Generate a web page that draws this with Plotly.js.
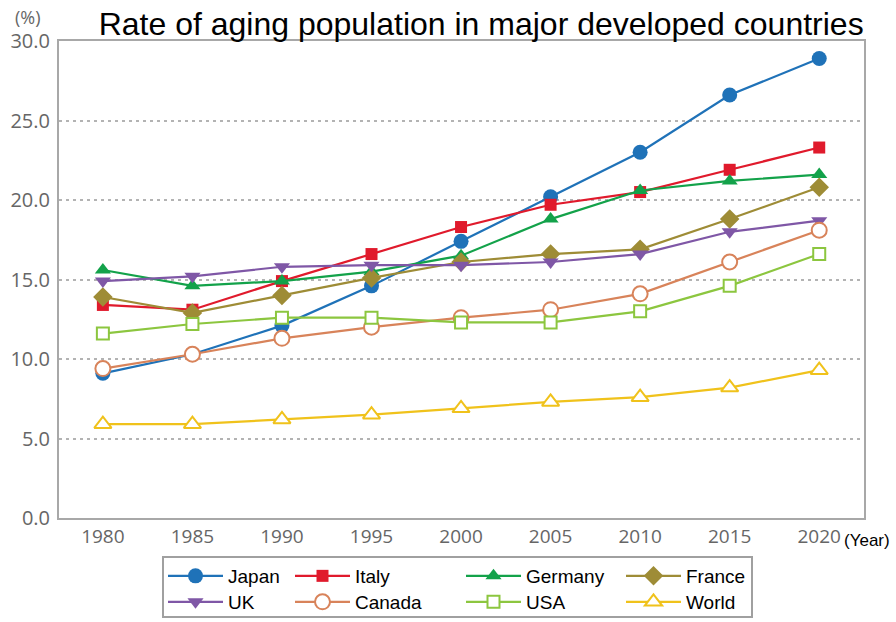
<!DOCTYPE html>
<html>
<head>
<meta charset="utf-8">
<script src="https://cdn.plot.ly/plotly-3.0.1.min.js"></script>
<style>html,body{margin:0;padding:0;background:#fff;}#chart{width:896px;height:622px;}</style>
</head>
<body>
<div id="chart"></div>
<script>
var years = [1980, 1985, 1990, 1995, 2000, 2005, 2010, 2015, 2020];
var japan   = [9.1, 10.3, 12.1, 14.6, 17.4, 20.2, 23.0, 26.6, 28.9];
var italy   = [13.4, 13.1, 14.9, 16.6, 18.3, 19.7, 20.5, 21.9, 23.3];
var germany = [15.6, 14.6, 14.9, 15.5, 16.5, 18.8, 20.6, 21.2, 21.6];
var france  = [13.9, 12.9, 14.0, 15.1, 16.1, 16.6, 16.9, 18.8, 20.8];
var uk      = [14.9, 15.2, 15.8, 15.9, 15.9, 16.1, 16.6, 18.0, 18.7];
var canada  = [9.4, 10.3, 11.3, 12.0, 12.6, 13.1, 14.1, 16.1, 18.1];
var usa     = [11.6, 12.2, 12.6, 12.6, 12.3, 12.3, 13.0, 14.6, 16.6];
var world   = [5.9, 5.9, 6.2, 6.5, 6.9, 7.3, 7.6, 8.2, 9.3];
var yTicks  = [0, 5, 10, 15, 20, 25, 30];

function series(name, y, color, symbol, size, open, legend, lw) {
  return {
    type: 'scatter', mode: 'lines+markers', name: name, x: years, y: y,
    line: {color: color, width: 2.2},
    marker: open ? {symbol: symbol, size: size, color: '#ffffff', line: {color: color, width: 2}}
                 : {symbol: symbol, size: size, color: color, line: {width: 0}},
    legend: legend, legendwidth: lw
  };
}

var data = [
  series('Japan', japan, '#1f72b8', 'circle', 15, false, 'legend', 57),
  series('Italy', italy, '#e01a2c', 'square', 12, false, 'legend', 101),
  series('Germany', germany, '#13a24a', 'triangle-up', 14, false, 'legend', 90),
  series('France', france, '#9e8c36', 'diamond', 15, false, 'legend', 60),
  series('UK', uk, '#7f57a6', 'triangle-down', 14, false, 'legend2', 57),
  series('Canada', canada, '#d8835a', 'circle', 15, true, 'legend2', 101),
  series('USA', usa, '#8cc63f', 'square', 12, true, 'legend2', 90),
  series('World', world, '#f0c21b', 'triangle-up', 15, true, 'legend2', 60)
];

var legendCommon = {
  orientation: 'h', xref: 'container', yref: 'container', xanchor: 'left', yanchor: 'top',
  borderwidth: 0, bgcolor: 'rgba(0,0,0,0)', itemwidth: 55, itemclick: false, itemdoubleclick: false,
  font: {family: 'Liberation Sans, Arial, sans-serif', size: 19, color: '#000'}
};

var layout = {
  width: 896, height: 622,
  margin: {l: 59, r: 32, t: 41, b: 104, autoexpand: false},
  paper_bgcolor: '#fff', plot_bgcolor: '#fff',
  showlegend: true,
  title: {
    text: 'Rate of aging population in major developed countries',
    font: {family: 'Liberation Sans, Arial, sans-serif', size: 32, color: '#000'},
    x: 0.537, xanchor: 'center', xref: 'container', y: 0.962, yanchor: 'middle', yref: 'container'
  },
  xaxis: {
    range: [1977.55, 2022.5], tickvals: years, ticktext: years.map(String),
    showgrid: false, zeroline: false, showline: true, mirror: true,
    linecolor: '#a8a8a8', linewidth: 2, ticks: '',
    tickfont: {family: 'Open Sans, sans-serif', size: 19, color: '#666'}
  },
  yaxis: {
    range: [0, 30], tickvals: yTicks, tickformat: '.1f',
    showgrid: true, gridcolor: '#b3b3b3', gridwidth: 2, griddash: '3px,4px',
    zeroline: false, showline: true, mirror: true,
    linecolor: '#a8a8a8', linewidth: 2, ticks: '', ticklabelstandoff: 3,
    tickfont: {family: 'Open Sans, sans-serif', size: 20, color: '#666'}
  },
  legend: Object.assign({}, legendCommon, {x: 163 / 896, y: 1 - 557 / 622}),
  legend2: Object.assign({}, legendCommon, {x: 163 / 896, y: 1 - 583 / 622}),
  shapes: [
    {type: 'rect', xref: 'paper', yref: 'paper',
     x0: (163 - 59) / 805, x1: (752 - 59) / 805,
     y0: (518 - 617) / 477, y1: (518 - 557) / 477,
     line: {color: '#a0a0a0', width: 2}, fillcolor: 'rgba(0,0,0,0)'}
  ],
  annotations: [
    {text: '(Year)', xref: 'paper', yref: 'paper', x: (843 - 59) / 805, y: (518 - 540) / 477,
     xanchor: 'left', yanchor: 'middle', showarrow: false, borderpad: 0,
     font: {family: 'Liberation Sans, Arial, sans-serif', size: 17, color: '#000'}},
    {text: '(%)', xref: 'paper', yref: 'paper', x: (28 - 59) / 805, y: (518 - 17) / 477,
     xanchor: 'center', yanchor: 'middle', showarrow: false,
     font: {family: 'Open Sans, sans-serif', size: 18, color: '#666'}}
  ]
};

Plotly.newPlot('chart', data, layout, {staticPlot: true, displayModeBar: false});
</script>
</body>
</html>
